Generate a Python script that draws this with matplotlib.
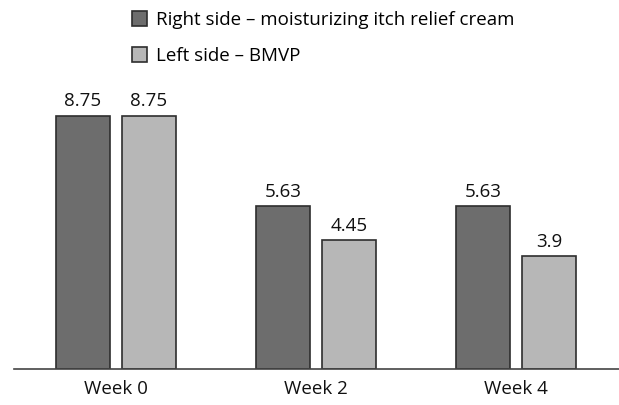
import matplotlib.pyplot as plt
import numpy as np

weeks = ['Week 0', 'Week 2', 'Week 4']
right_side = [8.75, 5.63, 5.63]
left_side = [8.75, 4.45, 3.9]
series_names = ['Right side \u2013 moisturizing itch relief cream', 'Left side \u2013 BMVP']

plt.rcParams['font.family'] = ['Open Sans', 'DejaVu Sans']
fs = 13.5

fig = plt.figure(figsize=(6.19, 4.05), dpi=100)
ax = fig.add_axes([14 / 619, 36 / 405, 605 / 619, 347 / 405])

x = np.arange(len(weeks))
w = 0.27
b1 = ax.bar(x - 0.165, right_side, w, color='#6d6d6d', edgecolor='#2e2e2e', linewidth=1.2, label=series_names[0])
b2 = ax.bar(x + 0.165, left_side, w, color='#b7b7b7', edgecolor='#2e2e2e', linewidth=1.2, label=series_names[1])

ax.bar_label(b1, labels=[f'{v:g}' for v in right_side], padding=4, fontsize=fs, color='#111')
ax.bar_label(b2, labels=[f'{v:g}' for v in left_side], padding=4, fontsize=fs, color='#111')

ax.set_xlim(-0.51, 2.515)
ax.set_ylim(0, 12)
ax.set_xticks(x)
ax.set_xticklabels(weeks, fontsize=fs, color='#111')
ax.tick_params(axis='x', length=0, pad=8)
ax.set_yticks([])
for s in ['top', 'right', 'left']:
    ax.spines[s].set_visible(False)
ax.spines['bottom'].set_color('#444')
ax.spines['bottom'].set_linewidth(1.2)

fig.legend(loc='upper left', bbox_to_anchor=(132 / 619, 1 - 11 / 405), frameon=False,
           fontsize=fs, handlelength=0.8, handleheight=0.8, handletextpad=0.5,
           labelspacing=0.96, borderaxespad=0, borderpad=0)

fig.savefig('out.png', dpi=100)
